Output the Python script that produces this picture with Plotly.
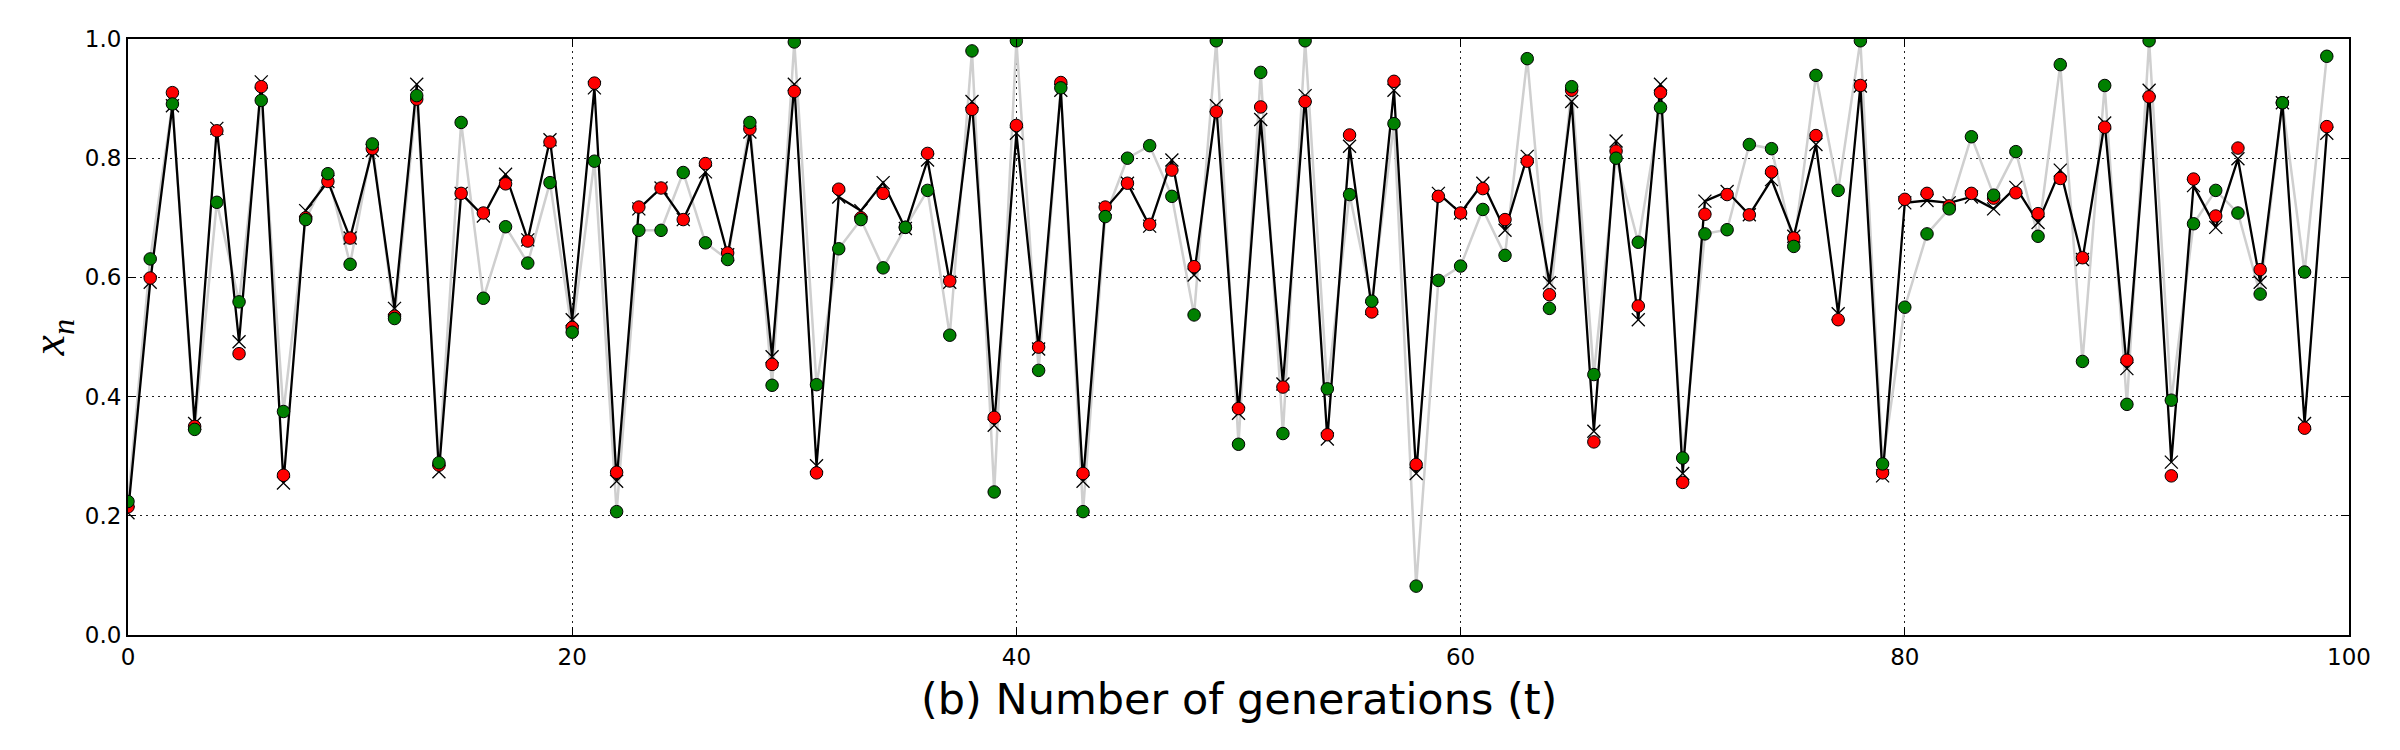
import plotly.graph_objects as go

generations = list(range(100))

# black line with x markers
series_black = [0.205, 0.592, 0.888, 0.355, 0.850, 0.492, 0.928, 0.255, 0.712, 0.761,
                0.666, 0.813, 0.548, 0.924, 0.274, 0.741, 0.703, 0.773, 0.663, 0.831,
                0.529, 0.918, 0.258, 0.715, 0.750, 0.697, 0.777, 0.638, 0.844, 0.467,
                0.924, 0.284, 0.735, 0.712, 0.759, 0.682, 0.797, 0.592, 0.895, 0.352,
                0.842, 0.480, 0.914, 0.258, 0.715, 0.758, 0.686, 0.797, 0.604, 0.888,
                0.372, 0.865, 0.421, 0.905, 0.329, 0.820, 0.548, 0.914, 0.271, 0.741,
                0.708, 0.758, 0.679, 0.803, 0.591, 0.895, 0.342, 0.829, 0.529, 0.924,
                0.271, 0.728, 0.744, 0.705, 0.764, 0.669, 0.823, 0.539, 0.921, 0.267,
                0.725, 0.729, 0.725, 0.735, 0.715, 0.751, 0.692, 0.780, 0.630, 0.859,
                0.447, 0.914, 0.290, 0.754, 0.684, 0.799, 0.592, 0.893, 0.355, 0.842]

# red circles
series_red = [0.215, 0.599, 0.910, 0.350, 0.846, 0.472, 0.920, 0.268, 0.700, 0.761,
              0.666, 0.816, 0.535, 0.899, 0.285, 0.741, 0.708, 0.757, 0.661, 0.827,
              0.516, 0.926, 0.273, 0.718, 0.750, 0.697, 0.791, 0.641, 0.849, 0.454,
              0.912, 0.272, 0.748, 0.700, 0.741, 0.684, 0.808, 0.594, 0.882, 0.365,
              0.855, 0.483, 0.927, 0.271, 0.718, 0.758, 0.689, 0.780, 0.618, 0.878,
              0.380, 0.886, 0.416, 0.895, 0.336, 0.839, 0.542, 0.929, 0.286, 0.736,
              0.708, 0.749, 0.697, 0.795, 0.571, 0.914, 0.324, 0.812, 0.552, 0.910,
              0.256, 0.706, 0.739, 0.705, 0.777, 0.666, 0.838, 0.529, 0.922, 0.272,
              0.731, 0.741, 0.720, 0.741, 0.733, 0.742, 0.707, 0.766, 0.633, 0.852,
              0.461, 0.903, 0.267, 0.765, 0.703, 0.817, 0.613, 0.893, 0.347, 0.853]

# green circles with light gray line
series_green = [0.224, 0.631, 0.891, 0.345, 0.726, 0.559, 0.897, 0.375, 0.697, 0.774,
                0.622, 0.824, 0.531, 0.905, 0.289, 0.860, 0.565, 0.685, 0.624, 0.759,
                0.508, 0.795, 0.207, 0.679, 0.679, 0.776, 0.658, 0.630, 0.860, 0.419,
                0.995, 0.420, 0.648, 0.697, 0.616, 0.684, 0.746, 0.503, 0.980, 0.240,
                0.997, 0.444, 0.918, 0.207, 0.702, 0.800, 0.821, 0.736, 0.537, 0.997,
                0.320, 0.944, 0.338, 0.997, 0.413, 0.739, 0.560, 0.858, 0.082, 0.595,
                0.619, 0.714, 0.637, 0.967, 0.548, 0.920, 0.437, 0.800, 0.659, 0.885,
                0.297, 0.673, 0.680, 0.823, 0.816, 0.652, 0.939, 0.746, 0.997, 0.287,
                0.550, 0.673, 0.715, 0.836, 0.738, 0.811, 0.669, 0.957, 0.459, 0.922,
                0.387, 0.997, 0.394, 0.690, 0.746, 0.708, 0.572, 0.893, 0.609, 0.971]

x_ticks = [0, 20, 40, 60, 80, 100]
y_ticks = [0.0, 0.2, 0.4, 0.6, 0.8, 1.0]
x_label = "(b) Number of generations (t)"
y_label = "<i>x</i><sub><i>n</i></sub>"

fig = go.Figure()
fig.add_trace(go.Scatter(x=generations, y=series_green, mode="lines",
                         line=dict(color="#cfcfcf", width=2.5), showlegend=False,
                         hoverinfo="skip"))
fig.add_trace(go.Scatter(x=generations, y=series_black, mode="lines+markers",
                         line=dict(color="black", width=2.3),
                         marker=dict(symbol="x-thin", size=13,
                                     line=dict(color="black", width=1.3)),
                         showlegend=False))
fig.add_trace(go.Scatter(x=generations, y=series_red, mode="markers",
                         marker=dict(symbol="circle", size=12.5, color="#ff0000",
                                     line=dict(color="black", width=1)),
                         showlegend=False))
fig.add_trace(go.Scatter(x=generations, y=series_green, mode="markers",
                         marker=dict(symbol="circle", size=12.5, color="#008000",
                                     line=dict(color="black", width=1)),
                         showlegend=False))

axis_common = dict(showline=True, linecolor="black", linewidth=2, mirror="ticks",
                   ticks="inside", ticklen=8, tickwidth=1, tickcolor="black",
                   showgrid=True, gridcolor="#222222", gridwidth=1, griddash="2px,4px",
                   zeroline=False, tickfont=dict(family="DejaVu Sans", size=23, color="black"))

fig.update_xaxes(range=[0, 100], tickmode="array", tickvals=x_ticks,
                 ticktext=[str(v) for v in x_ticks], **axis_common)
fig.update_yaxes(range=[0, 1], tickmode="array", tickvals=y_ticks,
                 ticktext=[f"{v:.1f}" for v in y_ticks], **axis_common)

fig.add_annotation(text=x_label, xref="paper", yref="paper", x=0.5, y=-0.107,
                   xanchor="center", yanchor="middle", showarrow=False,
                   font=dict(family="DejaVu Sans", size=43, color="black"))
fig.add_annotation(text=y_label, xref="paper", yref="paper", x=-0.034, y=0.5,
                   xanchor="center", yanchor="middle", showarrow=False, textangle=-90,
                   font=dict(family="Liberation Serif", size=46, color="black"))

fig.update_layout(width=2400, height=750, paper_bgcolor="white", plot_bgcolor="white",
                  margin=dict(l=128, r=51, t=39, b=115))

fig.write_html("out.html")
